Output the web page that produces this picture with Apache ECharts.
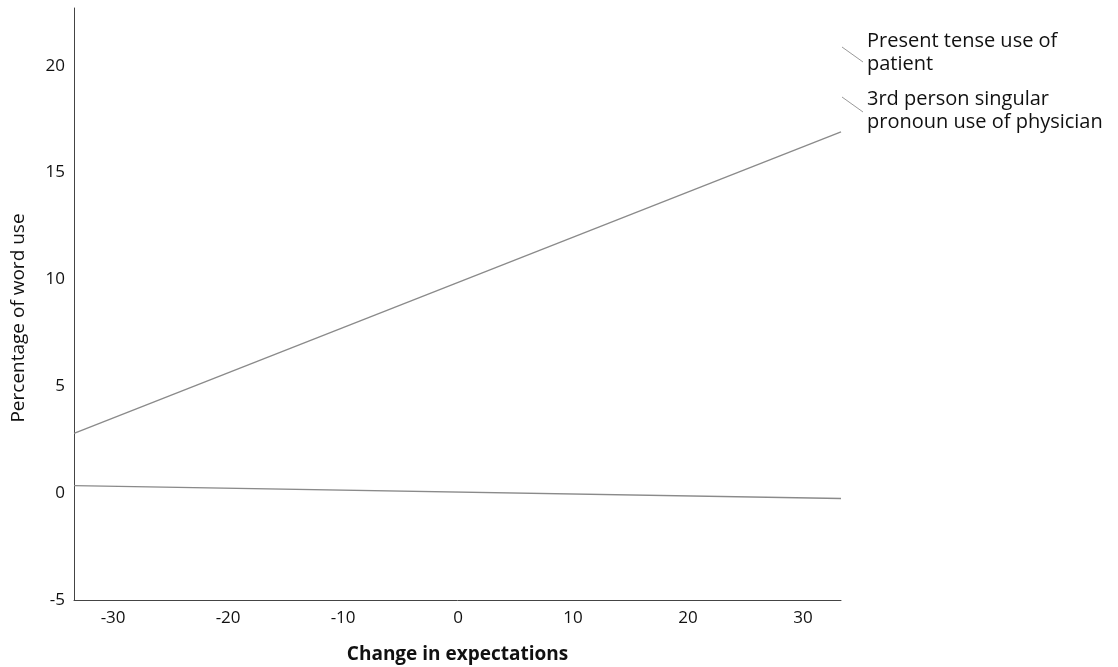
<!DOCTYPE html>
<html>
<head>
<meta charset="utf-8">
<script src="https://cdn.jsdelivr.net/npm/echarts@6/dist/echarts.min.js"></script>
<style>html,body{margin:0;padding:0;background:#fff}#c{width:1118px;height:667px}</style>
</head>
<body>
<div id="c"></div>
<script>
const xExtent = [-33.4, 33.3];
const xTicks = [-30, -20, -10, 0, 10, 20, 30];
const yTicks = [-5, 0, 5, 10, 15, 20];
const physicianPronoun = [2.8, 16.9];
const patientPresent = [0.35, -0.25];
const seriesNames = ['3rd person singular pronoun use of physician', 'Present tense use of patient'];

const FONT = '"Open Sans", Lato, sans-serif';
const chart = echarts.init(document.getElementById('c'), null, {renderer: 'canvas'});
const toPairs = vals => xExtent.map((x, i) => [x, vals[i]]);
chart.setOption({
  animation: false,
  backgroundColor: '#ffffff',
  grid: {left: 74, right: 277, top: 8, bottom: 67, outerBoundsMode: 'none', containLabel: false},
  xAxis: {
    type: 'value', min: xExtent[0], max: xExtent[1],
    name: 'Change in expectations', nameLocation: 'middle', nameGap: 45,
    nameTextStyle: {fontFamily: FONT, fontSize: 19, fontWeight: 'bold', color: '#111'},
    axisLine: {show: true, onZero: false, lineStyle: {color: '#444', width: 1}},
    axisTick: {show: false},
    splitLine: {show: false},
    axisLabel: {customValues: xTicks, fontFamily: FONT, fontSize: 17, color: '#111', margin: 10}
  },
  yAxis: {
    type: 'value', min: -5, max: 22.7,
    name: 'Percentage of word use', nameLocation: 'middle', nameGap: 46,
    nameTextStyle: {fontFamily: FONT, fontSize: 19, color: '#111', padding: [0, 28, 0, 0]},
    axisLine: {show: true, onZero: false, lineStyle: {color: '#444', width: 1}},
    axisTick: {show: false},
    splitLine: {show: false},
    axisLabel: {customValues: yTicks, fontFamily: FONT, fontSize: 17, color: '#111', margin: 9}
  },
  series: [
    {name: seriesNames[0], type: 'line', data: toPairs(physicianPronoun), showSymbol: false,
     lineStyle: {color: '#8a8a8a', width: 1.3}},
    {name: seriesNames[1], type: 'line', data: toPairs(patientPresent), showSymbol: false,
     lineStyle: {color: '#8a8a8a', width: 1.3}}
  ],
  graphic: [
    {type: 'line', shape: {x1: 842, y1: 47, x2: 863, y2: 62}, style: {stroke: '#999', lineWidth: 1}},
    {type: 'line', shape: {x1: 842, y1: 97, x2: 863, y2: 112}, style: {stroke: '#999', lineWidth: 1}},
    {type: 'text', left: 867, top: 30, style: {text: 'Present tense use of\npatient', font: '20px ' + FONT, fill: '#111', lineHeight: 23}},
    {type: 'text', left: 867, top: 88, style: {text: '3rd person singular\npronoun use of physician', font: '20px ' + FONT, fill: '#111', lineHeight: 23}}
  ]
});
</script>
</body>
</html>
